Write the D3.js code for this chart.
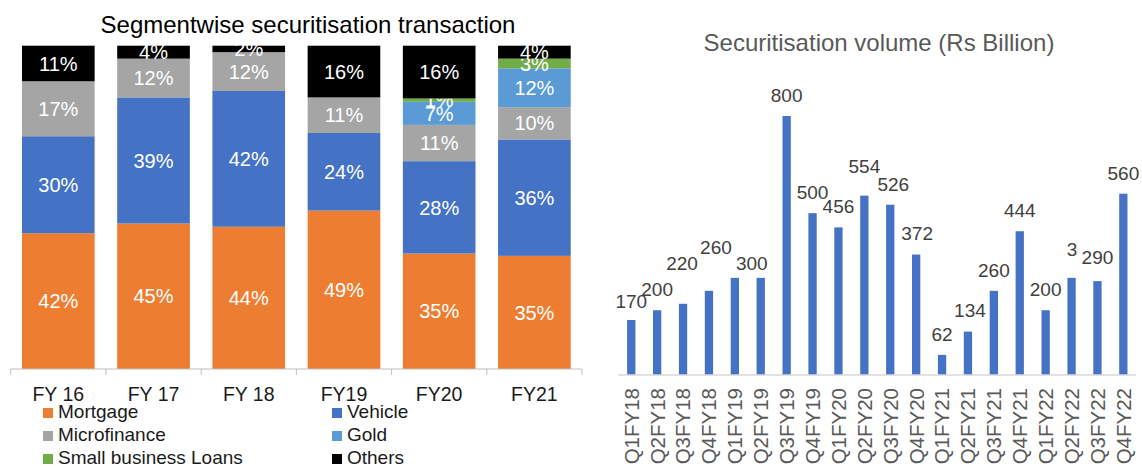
<!DOCTYPE html>
<html>
<head>
<meta charset="utf-8">
<script src="https://cdn.jsdelivr.net/npm/d3@7"></script>
<style>
  body { margin: 0; background: #fff; }
  svg text { font-family: "Liberation Sans", Arial, sans-serif; }
</style>
</head>
<body>
<div id="chart"></div>
<script>

// left chart data (share of securitisation, %)
var fyYears = ["FY 16", "FY 17", "FY 18", "FY19", "FY20", "FY21"];
var segments = ["Mortgage", "Vehicle", "Microfinance", "Gold", "Small business Loans", "Others"];
var mortgage = [42, 45, 44, 49, 35, 35];
var vehicle = [30, 39, 42, 24, 28, 36];
var microfinance = [17, 12, 12, 11, 11, 10];
var gold = [0, 0, 0, 0, 7, 12];
var smallBusiness = [0, 0, 0, 0, 1, 3];
var others = [11, 4, 2, 16, 16, 4];

// right chart data (Rs Billion)
var quarters = ["Q1FY18", "Q2FY18", "Q3FY18", "Q4FY18", "Q1FY19", "Q2FY19", "Q3FY19", "Q4FY19",
  "Q1FY20", "Q2FY20", "Q3FY20", "Q4FY20", "Q1FY21", "Q2FY21", "Q3FY21", "Q4FY21",
  "Q1FY22", "Q2FY22", "Q3FY22", "Q4FY22"];
var volume = [170, 200, 220, 260, 300, 300, 800, 500, 456, 554, 526, 372, 62, 134, 260, 444, 200, 300, 290, 560];

// label nudges [dx, dy] as excel placed them, null = label hidden
var labelNudge = [[0, 2], [0, 0], [-1, -20], [7, -23], null, [-9, 6], [0, 0], [0, 0],
  [0, 0], [0, -8], [3, 0], [1, 0], [0, 0], [2, 0], [0, 0], [0, 0],
  [0, 0], [11, -8], [0, -3], [0, 0]];
var labelOnTop = "Q3FY22";

var colors = {
  "Mortgage": "#ED7D31",
  "Vehicle": "#4472C4",
  "Microfinance": "#A5A5A5",
  "Gold": "#5B9BD5",
  "Small business Loans": "#70AD47",
  "Others": "#000000"
};

var svg = d3.select("#chart")
  .append("svg")
  .attr("width", 1142)
  .attr("height", 468);

// ---------- left: 100% stacked bars ----------
var rows = fyYears.map(function (fy, i) {
  return {
    year: fy,
    "Mortgage": mortgage[i],
    "Vehicle": vehicle[i],
    "Microfinance": microfinance[i],
    "Gold": gold[i],
    "Small business Loans": smallBusiness[i],
    "Others": others[i]
  };
});

var stacked = d3.stack()
  .keys(segments)
  .offset(d3.stackOffsetExpand)(rows);

var x1 = d3.scaleBand()
  .domain(fyYears)
  .range([10.7, 582])
  .paddingInner(0.237)
  .paddingOuter(0.1185);

var y1 = d3.scaleLinear()
  .domain([0, 1])
  .range([369, 45.7]);

svg.append("text")
  .attr("x", 308)
  .attr("y", 33)
  .attr("text-anchor", "middle")
  .style("font-size", "24px")
  .style("fill", "#000")
  .text("Segmentwise securitisation transaction");

var layer = svg.append("g")
  .selectAll("g")
  .data(stacked)
  .enter()
  .append("g")
  .attr("fill", function (d) { return colors[d.key]; });

layer.selectAll("rect")
  .data(function (d) { return d; })
  .enter()
  .append("rect")
  .attr("x", function (d) { return x1(d.data.year); })
  .attr("y", function (d) { return y1(d[1]); })
  .attr("width", x1.bandwidth())
  .attr("height", function (d) { return y1(d[0]) - y1(d[1]); });

// segment labels
layer.each(function (s) {
  d3.select(this).selectAll("text")
    .data(s.filter(function (d) { return d.data[s.key] > 0; }))
    .enter()
    .append("text")
    .attr("x", function (d) { return x1(d.data.year) + x1.bandwidth() / 2; })
    .attr("y", function (d) { return (y1(d[0]) + y1(d[1])) / 2; })
    .attr("dy", "0.36em")
    .attr("text-anchor", "middle")
    .style("font-size", "20px")
    .style("fill", "#fff")
    .text(function (d) { return d.data[s.key] + "%"; });
});

// axis with ticks between categories
var axis1 = svg.append("g");
axis1.append("line")
  .attr("x1", x1.range()[0]).attr("x2", x1.range()[1])
  .attr("y1", y1(0)).attr("y2", y1(0))
  .attr("stroke", "#bfbfbf").attr("stroke-width", 1);

var gap = (x1.step() - x1.bandwidth()) / 2;
var tickPos = fyYears.map(function (d) { return x1(d) - gap; }).concat([x1.range()[1]]);
axis1.selectAll(".tick")
  .data(tickPos)
  .enter()
  .append("line")
  .attr("x1", function (d) { return d; }).attr("x2", function (d) { return d; })
  .attr("y1", y1(0)).attr("y2", y1(0) + 6)
  .attr("stroke", "#bfbfbf");

axis1.selectAll(".cat")
  .data(fyYears)
  .enter()
  .append("text")
  .attr("x", function (d) { return x1(d) + x1.bandwidth() / 2; })
  .attr("y", 401)
  .attr("text-anchor", "middle")
  .style("font-size", "19.5px")
  .style("fill", "#1a1a1a")
  .text(function (d) { return d; });

// legend, two columns
var legend = svg.append("g")
  .selectAll("g")
  .data(segments)
  .enter()
  .append("g")
  .attr("transform", function (d, i) {
    return "translate(" + (i % 2 === 0 ? 43 : 332) + "," + (418 + Math.floor(i / 2) * 23) + ")";
  });

legend.append("rect")
  .attr("x", 0)
  .attr("y", -10)
  .attr("width", 10)
  .attr("height", 10)
  .attr("fill", function (d) { return colors[d]; });

legend.append("text")
  .attr("x", 15)
  .attr("y", 0)
  .style("font-size", "19px")
  .style("fill", "#1a1a1a")
  .text(function (d) { return d; });

// ---------- right: quarterly volume ----------
var x2 = d3.scaleBand()
  .domain(quarters)
  .range([618.3, 1136.3])
  .paddingInner(0.68)
  .paddingOuter(0.34);

var y2 = d3.scaleLinear()
  .domain([0, 800])
  .range([375, 116]);

svg.append("text")
  .attr("x", 879)
  .attr("y", 51)
  .attr("text-anchor", "middle")
  .style("font-size", "24px")
  .style("fill", "#595959")
  .text("Securitisation volume (Rs Billion)");

var vol = quarters.map(function (q, i) { return { q: q, v: volume[i], nudge: labelNudge[i] }; });

svg.append("g")
  .selectAll("rect")
  .data(vol)
  .enter()
  .append("rect")
  .attr("x", function (d) { return x2(d.q); })
  .attr("y", function (d) { return y2(d.v); })
  .attr("width", x2.bandwidth())
  .attr("height", function (d) { return y2(0) - y2(d.v); })
  .attr("fill", "#4472C4");

svg.append("line")
  .attr("x1", x2.range()[0]).attr("x2", x2.range()[1])
  .attr("y1", y2(0)).attr("y2", y2(0))
  .attr("stroke", "#d9d9d9").attr("stroke-width", 1.5);

// value labels
var valLabels = svg.append("g")
  .selectAll("g")
  .data(vol.filter(function (d) { return d.nudge !== null; }))
  .enter()
  .append("g")
  .attr("transform", function (d) {
    return "translate(" + (x2(d.q) + x2.bandwidth() / 2 + d.nudge[0]) + "," + (y2(d.v) - 21 + d.nudge[1]) + ")";
  });

// the 290 label sits over the neighbouring 300 label, as in the source
valLabels.filter(function (d) { return d.q === labelOnTop; })
  .append("rect")
  .attr("x", -19.5).attr("y", -15.5)
  .attr("width", 40).attr("height", 28)
  .attr("fill", "#fff");

valLabels.append("text")
  .attr("dy", "0.36em")
  .attr("text-anchor", "middle")
  .style("font-size", "19px")
  .style("fill", "#404040")
  .text(function (d) { return d.v; });

// rotated category labels
svg.append("g")
  .selectAll("text")
  .data(quarters)
  .enter()
  .append("text")
  .attr("transform", function (d) {
    return "translate(" + (x2(d) + x2.bandwidth() / 2) + ",388) rotate(-90)";
  })
  .attr("dy", "0.36em")
  .attr("text-anchor", "end")
  .style("font-size", "20.5px")
  .style("fill", "#595959")
  .text(function (d) { return d; });

</script>
</body>
</html>
